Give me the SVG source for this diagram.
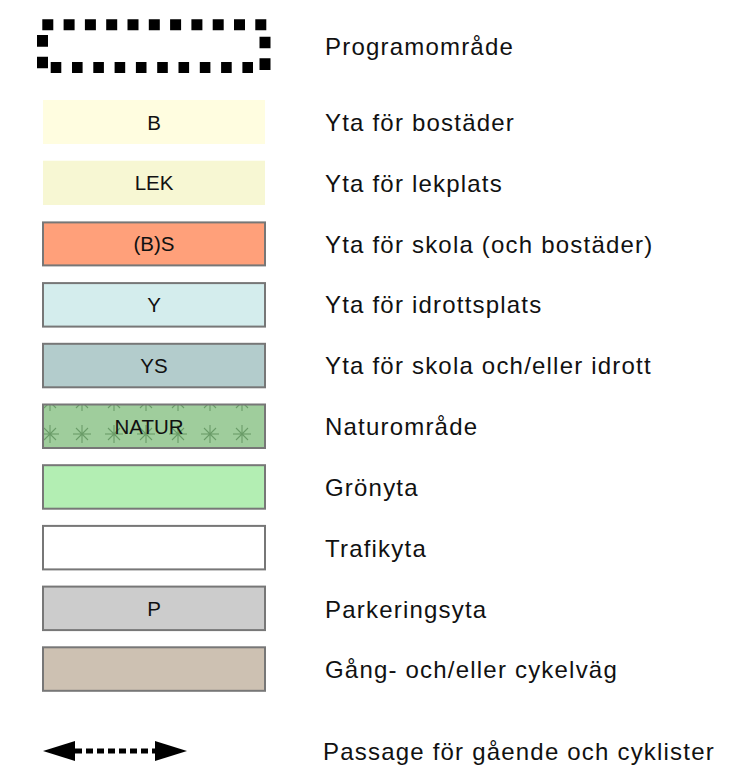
<svg xmlns="http://www.w3.org/2000/svg" width="732" height="776" viewBox="0 0 732 776">
<style>
.box{stroke:#777777;stroke-width:2}
.in{font-family:"Liberation Sans",Arial,Helvetica,sans-serif;font-size:20.5px;fill:#111;text-anchor:middle}
.lb{font-family:"Liberation Sans",Arial,Helvetica,sans-serif;font-size:24px;letter-spacing:1.2px;fill:#111}
.prog{fill:none;stroke:#000;stroke-width:11}
.star{stroke:#6a9c68;stroke-width:1.1;fill:none}
</style>
<defs>
<pattern id="natur" patternUnits="userSpaceOnUse" x="34" y="418" width="32" height="32">
<g class="star">
<line x1="7" y1="16" x2="25" y2="16"/>
<line x1="16" y1="7" x2="16" y2="25"/>
<line x1="10" y1="10" x2="22" y2="22"/>
<line x1="10" y1="22" x2="22" y2="10"/>
</g>
<circle cx="16" cy="16" r="1.5" fill="#6a9c68"/>
</pattern>
<marker id="head" viewBox="0 0 32 20" refX="0" refY="10" markerWidth="32" markerHeight="20" markerUnits="userSpaceOnUse" orient="auto-start-reverse">
<polygon points="0,0 32,10 0,20" fill="#000"/>
</marker>
</defs>

<g id="programomrade">
<path class="prog" d="M42.3 24.7 H266.7" stroke-dasharray="11 10.3"/>
<path class="prog" d="M265 36.7 V70" stroke-dasharray="11.6 10"/>
<path class="prog" d="M50.7 67.5 H253.3" stroke-dasharray="10.6 10.7"/>
<path class="prog" d="M42.5 35 V68.3" stroke-dasharray="11.7 10"/>
<text class="lb" x="325" y="55">Programområde</text>
</g>

<g id="bostader">
<rect x="43" y="100" width="222" height="44" fill="#fffde0"/>
<text class="in" x="154" y="129.5">B</text>
<text class="lb" x="325" y="131">Yta för bostäder</text>
</g>

<g id="lekplats">
<rect x="43" y="160.7" width="222" height="44.3" fill="#f7f7d3"/>
<text class="in" x="154" y="190">LEK</text>
<text class="lb" x="325" y="192">Yta för lekplats</text>
</g>

<g id="skola">
<rect class="box" x="43" y="222.4" width="222" height="43" fill="#ffa07a"/>
<text class="in" x="154" y="251">(B)S</text>
<text class="lb" x="325" y="252.5">Yta för skola (och bostäder)</text>
</g>

<g id="idrottsplats">
<rect class="box" x="43" y="283.1" width="222" height="43.5" fill="#d4eded"/>
<text class="in" x="154" y="312">Y</text>
<text class="lb" x="325" y="313">Yta för idrottsplats</text>
</g>

<g id="skola-idrott">
<rect class="box" x="43" y="343.8" width="222" height="43.5" fill="#b3cccc"/>
<text class="in" x="154" y="373">YS</text>
<text class="lb" x="325" y="374">Yta för skola och/eller idrott</text>
</g>

<g id="naturomrade">
<rect x="43" y="404.5" width="222" height="43.5" fill="#9fcd9c"/>
<rect class="box" x="43" y="404.5" width="222" height="43.5" fill="url(#natur)"/>
<text class="in" x="149" y="433.5">NATUR</text>
<text class="lb" x="325" y="435">Naturområde</text>
</g>

<g id="gronyta">
<rect class="box" x="43" y="465.2" width="222" height="43.5" fill="#b3eeb3"/>
<text class="lb" x="325" y="496">Grönyta</text>
</g>

<g id="trafikyta">
<rect class="box" x="43" y="525.9" width="222" height="43.5" fill="#ffffff"/>
<text class="lb" x="325" y="556.5">Trafikyta</text>
</g>

<g id="parkeringsyta">
<rect class="box" x="43" y="586.6" width="222" height="43.5" fill="#cccccc"/>
<text class="in" x="154" y="616">P</text>
<text class="lb" x="325" y="617.5">Parkeringsyta</text>
</g>

<g id="gangvag">
<rect class="box" x="43" y="647.3" width="222" height="43.5" fill="#cdc1b2"/>
<text class="lb" x="325" y="678">Gång- och/eller cykelväg</text>
</g>

<g id="connectors">
<line x1="75" y1="751" x2="155" y2="751" stroke="#000" stroke-width="5" stroke-dasharray="7 4" marker-start="url(#head)" marker-end="url(#head)"/>
</g>
<g id="passage">
<text class="lb" x="323" y="760">Passage för gående och cyklister</text>
</g>
</svg>
